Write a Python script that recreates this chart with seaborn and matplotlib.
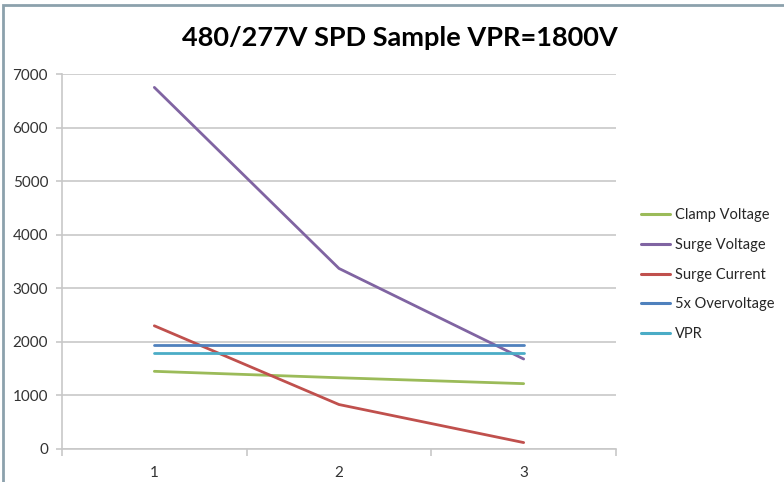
import numpy as np
import pandas as pd
import seaborn as sns
from matplotlib import pyplot as plt
from matplotlib.patches import Rectangle

TITLE = '480/277V SPD Sample VPR=1800V'
samples = [1, 2, 3]
series_names = ['Clamp Voltage', 'Surge Voltage', 'Surge Current', '5x Overvoltage', 'VPR']
clamp_voltage = [1450, 1330, 1220]
surge_voltage = [6750, 3370, 1680]
surge_current = [2300, 830, 120]
overvoltage_5x = [1950, 1950, 1950]
vpr = [1800, 1800, 1800]
colors = ['#9BBB59', '#8064A2', '#C0504D', '#4F81BD', '#4BACC6']
y_ticks = [0, 1000, 2000, 3000, 4000, 5000, 6000, 7000]

values = [clamp_voltage, surge_voltage, surge_current, overvoltage_5x, vpr]
df = pd.DataFrame({
    'sample': samples * len(series_names),
    'value': np.concatenate(values),
    'series': np.repeat(series_names, len(samples)),
})

sns.set_theme(style='white')
plt.rcParams['font.family'] = ['Lato', 'DejaVu Sans']

fig = plt.figure(figsize=(7.84, 4.82), dpi=100)
ax = fig.add_axes([62 / 784, 1 - 449 / 482, (616 - 62) / 784, (449 - 74) / 482])

sns.lineplot(data=df, x='sample', y='value', hue='series', hue_order=series_names,
             palette=colors, linewidth=2, ax=ax, legend=True)

ax.set_xlim(0.5, 3.5)
ax.set_ylim(0, 7000)
ax.set_yticks(y_ticks)
ax.set_xticks(samples)
ax.set_xticks([0.5, 1.5, 2.5, 3.5], minor=True)
ax.set_xlabel('')
ax.set_ylabel('')
ax.grid(axis='y', color='#c8c8c8', linewidth=1.2)
ax.set_axisbelow(True)
for side in ('top', 'right'):
    ax.spines[side].set_visible(False)
for side in ('left', 'bottom'):
    ax.spines[side].set_color('#c8c8c8')
    ax.spines[side].set_linewidth(1.2)
ax.tick_params(axis='x', which='major', length=0, pad=12, labelsize=11, labelcolor='#333333')
ax.tick_params(axis='x', which='minor', length=5, width=1.2, color='#c8c8c8', bottom=True)
ax.tick_params(axis='y', length=4, width=1.2, color='#c8c8c8', pad=6, labelsize=11,
               labelcolor='#333333', left=True)

leg = ax.legend(loc='upper left', bbox_to_anchor=(628 / 784, 1 - 195 / 482),
                bbox_transform=fig.transFigure, frameon=False, fontsize=10.5,
                handlelength=2.0, labelspacing=1.08, handletextpad=0.3)
for line in leg.get_lines():
    line.set_linewidth(2.2)

fig.text(400 / 784, 1 - 38 / 482, TITLE, ha='center', va='center',
         fontsize=19.5, fontweight='bold', color='#000000')

fig.patches.append(Rectangle((3 / 784, -0.1), 1.2, 1 - 5 / 482 + 0.1, transform=fig.transFigure,
                             fill=False, edgecolor='#8CA1AC', linewidth=2))

fig.savefig('out.png', dpi=100)
